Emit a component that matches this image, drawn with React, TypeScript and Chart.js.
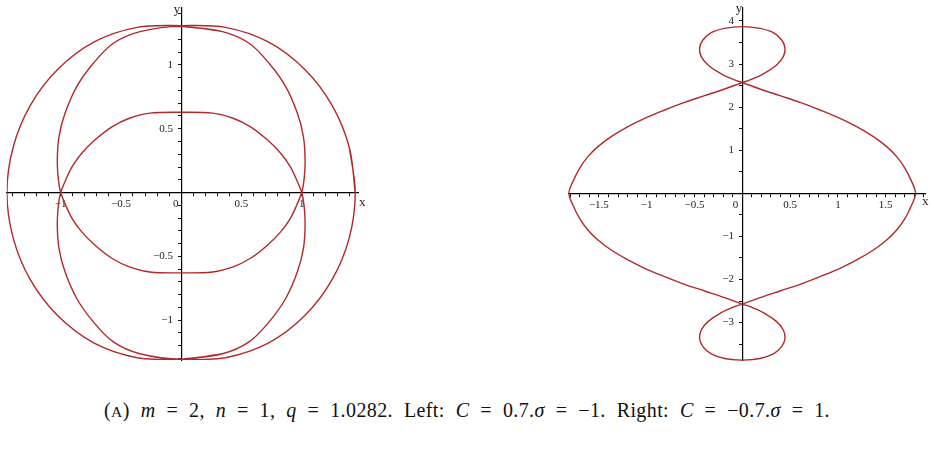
import React, { useEffect, useRef } from 'react';
import { Chart, registerables } from 'chart.js';

Chart.register(...registerables);

// ---------- data ----------
// Left plot (C = 0.7, sigma = -1): three closed branches, [x, y]
const leftOuter: [number, number][] = [
  [1.444, 0], [1.395, 0.353], [1.252, 0.683], [1.024, 0.966], [0.722, 1.18], [0.367, 1.294], [0, 1.308],
  [-0.367, 1.294], [-0.722, 1.18], [-1.024, 0.966], [-1.252, 0.683], [-1.395, 0.353], [-1.446, 0],
  [-1.395, -0.353], [-1.252, -0.683], [-1.024, -0.966], [-0.722, -1.18], [-0.367, -1.294], [0, -1.31],
  [0.367, -1.294], [0.722, -1.18], [1.024, -0.966], [1.252, -0.683], [1.395, -0.353], [1.444, 0], [1.395, 0.353],
];

const leftUpperLoop: [number, number][] = [
  [0, 1.302], [0.342, 1.261], [0.563, 1.17], [0.729, 1.013], [0.867, 0.83], [0.964, 0.621], [1.014, 0.439],
  [1.028, 0.256], [1.019, 0.099], [1.0, 0], [0.958, -0.099], [0.905, -0.204], [0.825, -0.308], [0.715, -0.413],
  [0.575, -0.515], [0.43, -0.582], [0.26, -0.622], [0, -0.629],
  [-0.26, -0.622], [-0.43, -0.582], [-0.575, -0.515], [-0.715, -0.413], [-0.825, -0.308], [-0.905, -0.204],
  [-0.958, -0.099], [-1.0, 0], [-1.019, 0.099], [-1.028, 0.256], [-1.014, 0.439], [-0.964, 0.621],
  [-0.867, 0.83], [-0.729, 1.013], [-0.563, 1.17], [-0.342, 1.261], [0, 1.302], [0.342, 1.261],
];

const leftLowerLoop: [number, number][] = [
  [0, -1.306], [0.342, -1.263], [0.563, -1.17], [0.729, -1.013], [0.867, -0.83], [0.964, -0.621], [1.014, -0.439],
  [1.028, -0.256], [1.019, -0.099], [1.0, 0], [0.958, 0.099], [0.905, 0.204], [0.825, 0.308], [0.715, 0.413],
  [0.575, 0.515], [0.43, 0.582], [0.26, 0.622], [0, 0.629],
  [-0.26, 0.622], [-0.43, 0.582], [-0.575, 0.515], [-0.715, 0.413], [-0.825, 0.308], [-0.905, 0.204],
  [-0.958, 0.099], [-1.0, 0], [-1.019, -0.099], [-1.028, -0.256], [-1.014, -0.439], [-0.964, -0.621],
  [-0.867, -0.83], [-0.729, -1.013], [-0.563, -1.17], [-0.342, -1.263], [0, -1.306], [0.342, -1.263],
];

// Right plot (C = -0.7, sigma = 1): one closed curve with two small loops
const rightCurve: [number, number][] = [
  [0, 2.57], [0.185, 2.421], [0.394, 2.266], [0.604, 2.111], [0.813, 1.933], [1.022, 1.74], [1.196, 1.547],
  [1.371, 1.315], [1.51, 1.083], [1.615, 0.851], [1.702, 0.58], [1.772, 0.271], [1.812, 0],
  [1.772, -0.271], [1.702, -0.58], [1.615, -0.851], [1.51, -1.083], [1.371, -1.315], [1.196, -1.547],
  [1.022, -1.74], [0.813, -1.933], [0.604, -2.111], [0.394, -2.266], [0.185, -2.421], [0, -2.57],
  [-0.081, -2.63], [-0.22, -2.769], [-0.359, -2.978], [-0.429, -3.171], [-0.447, -3.364], [-0.412, -3.558],
  [-0.325, -3.728], [-0.185, -3.832], [0, -3.874],
  [0.185, -3.832], [0.325, -3.728], [0.412, -3.558], [0.447, -3.364], [0.429, -3.171], [0.359, -2.978],
  [0.22, -2.769], [0.081, -2.63], [0, -2.57],
  [-0.185, -2.421], [-0.394, -2.266], [-0.604, -2.111], [-0.813, -1.933], [-1.022, -1.74], [-1.196, -1.547],
  [-1.371, -1.315], [-1.51, -1.083], [-1.615, -0.851], [-1.702, -0.58], [-1.772, -0.271], [-1.815, 0],
  [-1.772, 0.271], [-1.702, 0.58], [-1.615, 0.851], [-1.51, 1.083], [-1.371, 1.315], [-1.196, 1.547],
  [-1.022, 1.74], [-0.813, 1.933], [-0.604, 2.111], [-0.394, 2.266], [-0.185, 2.421], [0, 2.57],
  [0.081, 2.63], [0.22, 2.769], [0.359, 2.978], [0.429, 3.171], [0.447, 3.364], [0.412, 3.558],
  [0.325, 3.728], [0.185, 3.828], [0, 3.867],
  [-0.185, 3.828], [-0.325, 3.728], [-0.412, 3.558], [-0.447, 3.364], [-0.429, 3.171], [-0.359, 2.978],
  [-0.22, 2.769], [-0.081, 2.63], [0, 2.57], [0.185, 2.421],
];

// Tick labels
const leftXTickLabels = [-1, -0.5, 0, 0.5, 1];
const leftYTickLabels = [-1, -0.5, 0.5, 1];
const rightXTickLabels = [-1.5, -1, -0.5, 0, 0.5, 1, 1.5];
const rightYTickLabels = [-3, -2, -1, 1, 2, 3, 4];

const X_TITLE = 'x';
const Y_TITLE = 'y';

// ---------- styling ----------
const CURVE_COLOR = '#b02a2c';
const FONT = '"Liberation Serif", "Times New Roman", serif';
const LABEL_COLOR = '#222';

function fmt(v: number): string {
  const s = String(Math.abs(v));
  return v < 0 ? '\u2212' + s : s;
}

const axisLetters = {
  id: 'axisLetters',
  afterDraw(chart: any, _args: any, opts: any) {
    const { ctx } = chart;
    const xs = chart.scales.x;
    const ys = chart.scales.y;
    const x0 = xs.getPixelForValue(0);
    const y0 = ys.getPixelForValue(0);
    ctx.save();
    ctx.fillStyle = LABEL_COLOR;
    ctx.font = `13px ${FONT}`;
    ctx.textBaseline = 'alphabetic';
    ctx.textAlign = 'left';
    ctx.fillText(X_TITLE, xs.right + opts.xDx, y0 + opts.xDy);
    ctx.textAlign = 'right';
    ctx.fillText(Y_TITLE, x0 + opts.yDx, ys.top + opts.yDy);
    ctx.restore();
  },
};

type Spec = {
  curves: [number, number][][];
  left: number; top: number; w: number; h: number;
  padding: { left: number; top: number; right: number; bottom: number };
  xMin: number; xMax: number; yMin: number; yMax: number;
  xStep: number; yStep: number;
  xLabels: number[]; yLabels: number[];
  zeroPad: string;
  yPad: string;
  letters: { xDx: number; xDy: number; yDx: number; yDy: number };
};

function buildConfig(spec: Spec): any {
  const labelFor = (labels: number[], isX: boolean) => (value: number) => {
    const hit = labels.find((l) => Math.abs(l - value) < 1e-6);
    if (hit === undefined) return '';
    if (hit === 0 && isX) return '0' + spec.zeroPad;
    return isX ? fmt(hit) : fmt(hit) + spec.yPad;
  };
  const common = {
    type: 'linear',
    grid: { drawOnChartArea: false, drawTicks: true, tickLength: 3, tickColor: '#111', tickWidth: 1 },
    border: { display: true, color: '#000', width: 1.2 },
  };
  return {
    type: 'scatter',
    data: {
      datasets: spec.curves.map((pts) => ({
        data: pts.map(([x, y]) => ({ x, y })),
        showLine: true,
        borderColor: CURVE_COLOR,
        borderWidth: 1.4,
        pointRadius: 0,
        pointHoverRadius: 0,
        tension: 0.35,
        fill: false,
      })),
    },
    options: {
      animation: false,
      responsive: false,
      maintainAspectRatio: false,
      devicePixelRatio: 1,
      events: [],
      layout: { padding: spec.padding },
      plugins: {
        legend: { display: false },
        tooltip: { enabled: false },
        axisLetters: spec.letters,
      },
      scales: {
        x: {
          ...common,
          position: { y: 0 },
          min: spec.xMin,
          max: spec.xMax,
          ticks: {
            stepSize: spec.xStep,
            autoSkip: false,
            includeBounds: false,
            maxRotation: 0,
            minRotation: 0,
            padding: 2,
            color: LABEL_COLOR,
            font: { family: FONT, size: 11 },
            callback: labelFor(spec.xLabels, true),
          },
        },
        y: {
          ...common,
          position: { x: 0 },
          min: spec.yMin,
          max: spec.yMax,
          ticks: {
            stepSize: spec.yStep,
            autoSkip: false,
            includeBounds: false,
            padding: 3,
            color: LABEL_COLOR,
            font: { family: FONT, size: 11 },
            callback: labelFor(spec.yLabels, false),
          },
        },
      },
    },
    plugins: [axisLetters],
  };
}

const leftSpec: Spec = {
  curves: [leftOuter, leftUpperLoop, leftLowerLoop],
  left: -13, top: -12, w: 391, h: 392,
  padding: { left: 19.7, top: 20, right: 20, bottom: 20 },
  xMin: -1.448, xMax: 1.467, yMin: -1.312, yMax: 1.446,
  xStep: 0.1, yStep: 0.1,
  xLabels: leftXTickLabels, yLabels: leftYTickLabels,
  zeroPad: '    ',
  yPad: '   ',
  letters: { xDx: 1, xDy: 13, yDx: -1, yDy: 4.5 },
};

const rightSpec: Spec = {
  curves: [rightCurve],
  left: 548, top: -13, w: 397, h: 394,
  padding: { left: 20.3, top: 20.3, right: 20, bottom: 20.3 },
  xMin: -1.82, xMax: 1.911, yMin: -3.884, yMax: 4.316,
  xStep: 0.1, yStep: 0.5,
  xLabels: rightXTickLabels, yLabels: rightYTickLabels,
  zeroPad: '     ',
  yPad: '   ',
  letters: { xDx: -3, xDy: 12, yDx: 0, yDy: 5 },
};

function CurvePlot({ spec }: { spec: Spec }) {
  const ref = useRef<HTMLCanvasElement | null>(null);
  useEffect(() => {
    const chart = new Chart(ref.current as HTMLCanvasElement, buildConfig(spec));
    return () => chart.destroy();
  }, [spec]);
  return (
    <canvas
      ref={ref}
      width={spec.w}
      height={spec.h}
      style={{ position: 'absolute', left: spec.left, top: spec.top, width: spec.w, height: spec.h }}
    />
  );
}

export default function App() {
  return (
    <div
      style={{
        position: 'absolute',
        left: 0,
        top: 0,
        width: 934,
        height: 451,
        overflow: 'hidden',
        background: '#fff',
      }}
    >
      <CurvePlot spec={leftSpec} />
      <CurvePlot spec={rightSpec} />
      <div
        style={{
          position: 'absolute',
          left: 0,
          top: 398,
          width: 934,
          textAlign: 'center',
          fontFamily: FONT,
          fontSize: 20,
          lineHeight: '24px',
          letterSpacing: '0.4px',
          wordSpacing: '5.5px',
          color: '#111',
          whiteSpace: 'nowrap',
        }}
      >
        (<span style={{ fontSize: '0.78em' }}>A</span>) <i>m</i> = 2, <i>n</i> = 1, <i>q</i> = 1.0282. Left:{' '}
        <i>C</i> = 0.7.<i>σ</i> = −1. Right: <i>C</i> = −0.7.<i>σ</i> = 1.
      </div>
    </div>
  );
}
